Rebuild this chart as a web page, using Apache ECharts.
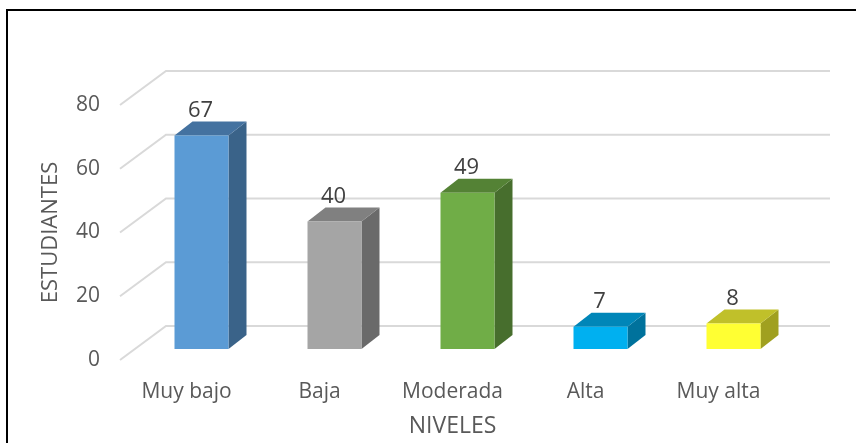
<!DOCTYPE html>
<html>
<head>
<meta charset="utf-8">
<script src="https://cdn.jsdelivr.net/npm/echarts@6/dist/echarts.min.js"></script>
<style>
  html, body { margin: 0; padding: 0; background: #fff; }
  #chart { width: 856px; height: 443px; }
</style>
</head>
<body>
<div id="chart"></div>
<script>
// datos del grafico
const categories = ['Muy bajo', 'Baja', 'Moderada', 'Alta', 'Muy alta']
const estudiantes = [67, 40, 49, 7, 8]
const yTicks = [0, 20, 40, 60, 80]

// colores de cada barra: frente, tapa, lado
const barColors = [
  ['#5B9BD5', '#4472A0', '#3A6389'],
  ['#A5A5A5', '#808080', '#6A6A6A'],
  ['#70AD47', '#548235', '#476E2D'],
  ['#00B0F0', '#0086B8', '#00729C'],
  ['#FFFF33', '#C0C02A', '#A0A020']
]

const FONT = 'Open Sans'
// profundidad del piso (frente -> pared del fondo)
const WALL_DX = 46, WALL_DY = -34
// cara frontal de la barra respecto al frente del piso
const FACE_DX = 15, FACE_DY = -11
// profundidad de la barra
const BAR_DX = 18, BAR_DY = -14

const chart = echarts.init(document.getElementById('chart'))

const renderWall = (params, api) => {
  const cs = params.coordSys
  const y = api.coord([0, api.value(1)])[1]
  const x0 = cs.x
  return {
    type: 'polyline',
    shape: {
      points: [
        [x0, y],
        [x0 + WALL_DX, y + WALL_DY],
        [x0 + cs.width + WALL_DX - 1, y + WALL_DY]
      ]
    },
    style: { stroke: '#D9D9D9', lineWidth: 2, fill: null },
    silent: true
  }
}

const renderBar = (params, api) => {
  const i = api.value(0)
  const v = api.value(1)
  const base = api.coord([i, 0])
  const top = api.coord([i, v])
  const band = api.size([1, 0])[0]
  const w = band * 0.406
  const cx = base[0] + FACE_DX
  const xl = cx - w / 2
  const xr = cx + w / 2
  const yb = base[1] + FACE_DY
  const yt = top[1] + FACE_DY
  const c = barColors[params.dataIndex]
  return {
    type: 'group',
    children: [
      {
        type: 'polygon',
        shape: { points: [[xr, yt], [xr + BAR_DX, yt + BAR_DY], [xr + BAR_DX, yb + BAR_DY], [xr, yb]] },
        style: { fill: c[2] }
      },
      {
        type: 'polygon',
        shape: { points: [[xl, yt], [xr, yt], [xr + BAR_DX, yt + BAR_DY], [xl + BAR_DX, yt + BAR_DY]] },
        style: { fill: c[1] }
      },
      {
        type: 'rect',
        shape: { x: xl, y: yt, width: w, height: yb - yt },
        style: { fill: c[0] }
      },
      {
        type: 'text',
        style: {
          x: cx - 1, y: yt + BAR_DY - 11,
          text: String(v),
          align: 'center', verticalAlign: 'middle',
          font: '22px "' + FONT + '"',
          fill: '#404040'
        }
      }
    ]
  }
}

const option = {
  backgroundColor: '#fff',
  animation: false,
  graphic: [
    {
      type: 'rect',
      shape: { x: 7, y: 10, width: 900, height: 500 },
      style: { fill: null, stroke: '#000', lineWidth: 2 },
      silent: true,
      z: 100
    }
  ],
  grid: { left: 120, right: 71, top: 105, bottom: 82 },
  xAxis: {
    type: 'category',
    data: categories,
    boundaryGap: true,
    axisLine: { show: false },
    axisTick: { show: false },
    axisLabel: { margin: 22, color: '#595959', fontFamily: FONT, fontSize: 21 },
    name: 'NIVELES',
    nameLocation: 'middle',
    nameGap: 55,
    nameTextStyle: { color: '#595959', fontFamily: FONT, fontSize: 23 }
  },
  yAxis: {
    type: 'value',
    min: 0,
    max: 80,
    interval: 20,
    axisLine: { show: false },
    axisTick: { show: false },
    splitLine: { show: false },
    axisLabel: { margin: 20, color: '#595959', fontFamily: FONT, fontSize: 21 },
    name: 'ESTUDIANTES',
    nameLocation: 'middle',
    nameGap: 58,
    nameTextStyle: { color: '#595959', fontFamily: FONT, fontSize: 22 }
  },
  series: [
    {
      type: 'custom',
      renderItem: renderWall,
      data: yTicks.map(t => [0, t]),
      z: 1
    },
    {
      type: 'custom',
      renderItem: renderBar,
      data: estudiantes.map((v, i) => [i, v]),
      z: 2
    }
  ]
}

chart.setOption(option)
</script>
</body>
</html>
